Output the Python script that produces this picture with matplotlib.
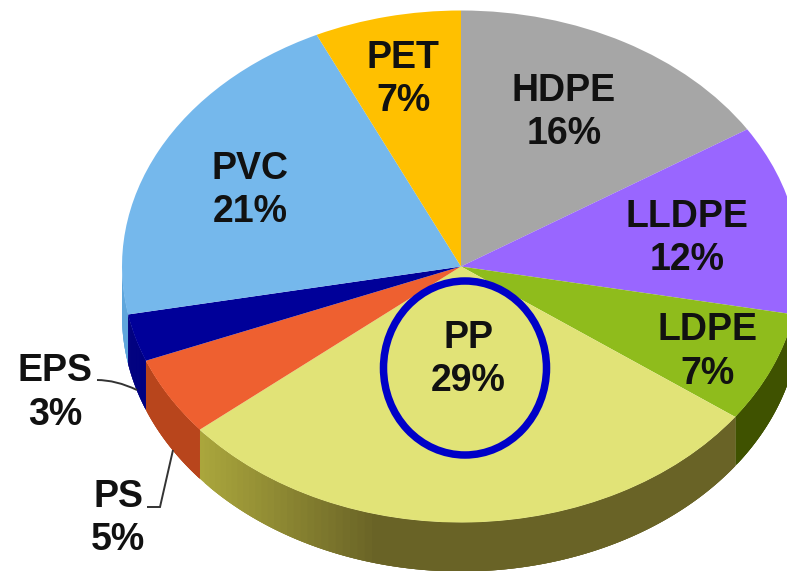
import numpy as np
import matplotlib
matplotlib.use('Agg')
import matplotlib.pyplot as plt
from matplotlib.colors import to_rgb
from matplotlib.patches import Ellipse
from matplotlib.path import Path
from matplotlib.patches import PathPatch

plt.rcParams['font.family'] = ['Liberation Sans', 'DejaVu Sans']

# plastics share, clockwise from 12 o'clock
names = ['HDPE', 'LLDPE', 'LDPE', 'PP', 'PS', 'EPS', 'PVC', 'PET']
shares = [16, 12, 7, 29, 5, 3, 21, 7]
top_colors = ['#A6A6A6', '#9966FF', '#8FBC1C', '#E1E377', '#EE6030', '#000099', '#75B8EC', '#FFC000']
# side colour at start/end of the visible wall (PP has a gradient)
side_from = ['#707070', '#6640B0', '#3F5200', '#696326', '#B8451C', '#000080', '#5FA6DC', '#B08000']
side_to = ['#707070', '#6640B0', '#3F5200', '#AFAB3E', '#B8451C', '#000080', '#5FA6DC', '#B08000']

W, H = 787, 571
cx, cy, rx, ry = 461, 266.5, 339, 256
depth = 49 / ry

fig = plt.figure(figsize=(W / 100, H / 100), dpi=100)
ax = fig.add_axes([0, 0, 1, 1])
wedges, _ = ax.pie(shares, colors=top_colors, startangle=90, counterclock=False,
                   wedgeprops={'linewidth': 0})
for w in wedges:
    w.set_zorder(5)
ax.set_aspect('auto')
ax.set_xlim(-cx / rx, (W - cx) / rx)
ax.set_ylim((cy - H) / ry, cy / ry)

# wall of the disc, from the angles the pie came out with
for w, c0, c1 in zip(wedges, side_from, side_to):
    c0, c1 = np.array(to_rgb(c0)), np.array(to_rgb(c1))
    t = np.radians(np.linspace(w.theta1, w.theta2, 81))
    for i in range(len(t) - 1):
        a, b = t[i], t[min(i + 3, len(t) - 1)]  # strips overlap so no seams show
        mid = (t[i] + t[i + 1]) / 2
        if np.sin(mid) > 0:
            continue
        # gradient runs only over the left part of the wall, then stays flat
        f = np.clip((-0.25 - np.cos(mid)) / 0.55, 0, 1)
        col = c0 + (c1 - c0) * f
        arc = np.linspace(a, b, 5)
        xs = np.r_[np.cos(arc), np.cos(arc[::-1])]
        ys = np.r_[np.sin(arc), np.sin(arc[::-1]) - depth]
        ax.fill(xs, ys, color=col, lw=0, zorder=2 + i * 0.001)

# overlay in pixel coords for labels, ring and leader lines
ov = fig.add_axes([0, 0, 1, 1])
ov.set_xlim(0, W)
ov.set_ylim(H, 0)
ov.axis('off')

labels = ['HDPE\n16%', 'LLDPE\n12%', 'LDPE\n7%', 'PP\n29%', 'PS\n5%', 'EPS\n3%', 'PVC\n21%', 'PET\n7%']
label_x = [564, 687, 707, 468, 118, 55, 250, 403]
label_y = [112.5, 238.5, 352, 359.5, 518.5, 393, 190.5, 79.5]
for s, x, y in zip(labels, label_x, label_y):
    ov.text(x, y, s, ha='center', va='center', fontsize=27, fontweight='bold',
            color='#111111', linespacing=1.27, zorder=10)

ov.add_patch(Ellipse((465, 368), 163, 174, fill=False, ec='#0000C8', lw=5.4, zorder=9))

eps_line = Path([(97, 380), (116, 380), (137, 390)], [Path.MOVETO, Path.CURVE3, Path.CURVE3])
ps_line = Path([(147, 507), (160, 507), (173, 450)], [Path.MOVETO, Path.LINETO, Path.LINETO])
for p in (eps_line, ps_line):
    ov.add_patch(PathPatch(p, fill=False, ec='#333333', lw=1.4, zorder=9))

fig.savefig('out.png', dpi=100)
